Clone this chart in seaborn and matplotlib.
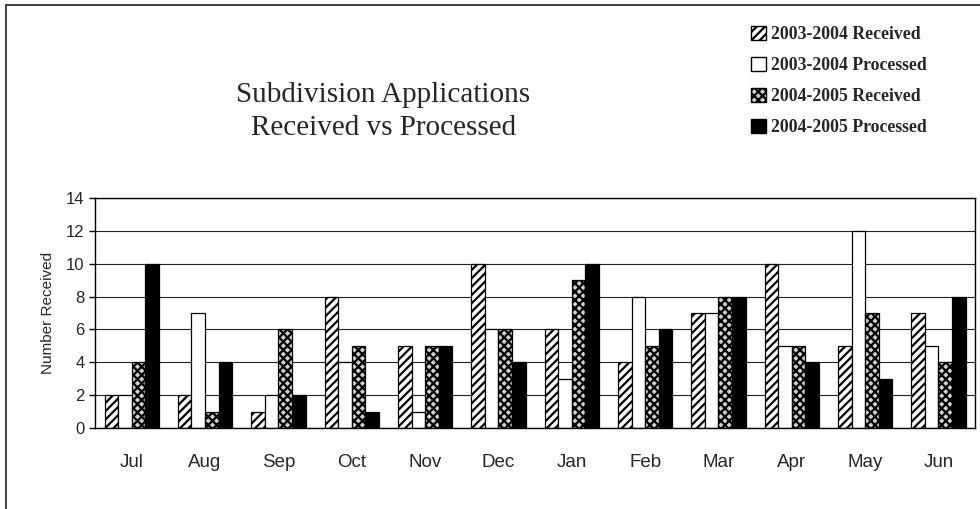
import pandas as pd
import matplotlib.pyplot as plt
import seaborn as sns
import numpy as np
from matplotlib.patches import Patch, Rectangle

# Monthly counts
months = ['Jul', 'Aug', 'Sep', 'Oct', 'Nov', 'Dec', 'Jan', 'Feb', 'Mar', 'Apr', 'May', 'Jun']
received_0304 = [2, 2, 1, 8, 5, 10, 6, 4, 7, 10, 5, 7]
processed_0304 = [2, 7, 2, 4, 1, 6, 3, 8, 7, 5, 12, 5]
received_0405 = [4, 1, 6, 5, 5, 6, 9, 5, 8, 5, 7, 4]
processed_0405 = [10, 4, 2, 1, 5, 4, 10, 6, 8, 4, 3, 8]
series_names = ['2003-2004 Received', '2003-2004 Processed',
                '2004-2005 Received', '2004-2005 Processed']

df = pd.DataFrame({
    'month': months * 4,
    'series': np.repeat(series_names, len(months)),
    'count': received_0304 + processed_0304 + received_0405 + processed_0405,
})

sns.set_style('white')
plt.rcParams['hatch.linewidth'] = 1.6

fig = plt.figure(figsize=(9.8, 5.09), dpi=100)
ax = fig.add_axes([0.097, 0.159, 0.898, 0.452])

sns.barplot(data=df, x='month', y='count', hue='series', order=months,
            hue_order=series_names, width=0.74, ax=ax, legend=False,
            edgecolor='black', linewidth=0.9)

# Excel-style fills: stripes, empty, checker, solid
styles = [
    dict(face='white', hatch='////'),
    dict(face='white', hatch=None),
    dict(face='#d0d0d0', hatch='xxxx'),
    dict(face='black', hatch=None),
]
for cont, st in zip(ax.containers, styles):
    for bar in cont:
        bar.set_facecolor(st['face'])
        bar.set_edgecolor('black')
        if st['hatch']:
            bar.set_hatch(st['hatch'])

ax.set_ylim(0, 14)
ax.set_yticks(range(0, 15, 2))
ax.set_xlim(-0.5, len(months) - 0.5)
ax.yaxis.grid(True, color='#222222', linewidth=0.8)
ax.set_axisbelow(True)
for s in ax.spines.values():
    s.set_visible(True)
    s.set_color('black')
    s.set_linewidth(1.0)

ax.set_xlabel('')
ax.set_ylabel('Number Received', fontsize=11, family='Liberation Sans', labelpad=8)
ax.set_xticks(np.arange(len(months)))
ax.set_xticklabels(months, fontsize=13.5, family='Liberation Sans')
ax.set_xticks(np.arange(-0.5, len(months)), minor=True)
ax.tick_params(axis='x', which='major', length=0, pad=19)
ax.tick_params(axis='x', which='minor', length=5, width=1, direction='out', color='black')
ax.tick_params(axis='y', length=4, width=1, direction='out', color='black',
               labelsize=12, left=True)
for t in ax.get_yticklabels():
    t.set_family('Liberation Sans')

fig.text(0.391, 0.78, 'Subdivision Applications\nReceived vs Processed',
         ha='center', va='center', fontsize=21, family='Liberation Serif',
         linespacing=1.35)

handles = [Patch(facecolor=st['face'], edgecolor='black', hatch=st['hatch'])
           for st in styles]
fig.legend(handles, series_names, loc='upper left', bbox_to_anchor=(0.757, 0.967),
           frameon=False, prop={'family': 'Liberation Serif', 'weight': 'bold', 'size': 12.8},
           handlelength=0.85, handleheight=0.85, handletextpad=0.3, labelspacing=0.78,
           borderpad=0)

# outer chart border (left and top edges visible in the scan)
fig.patches.append(Rectangle((0.006, -0.1), 1.2, 1.09, transform=fig.transFigure,
                             fill=False, edgecolor='#222222', linewidth=1.2))

fig.savefig('out.png', dpi=100)
